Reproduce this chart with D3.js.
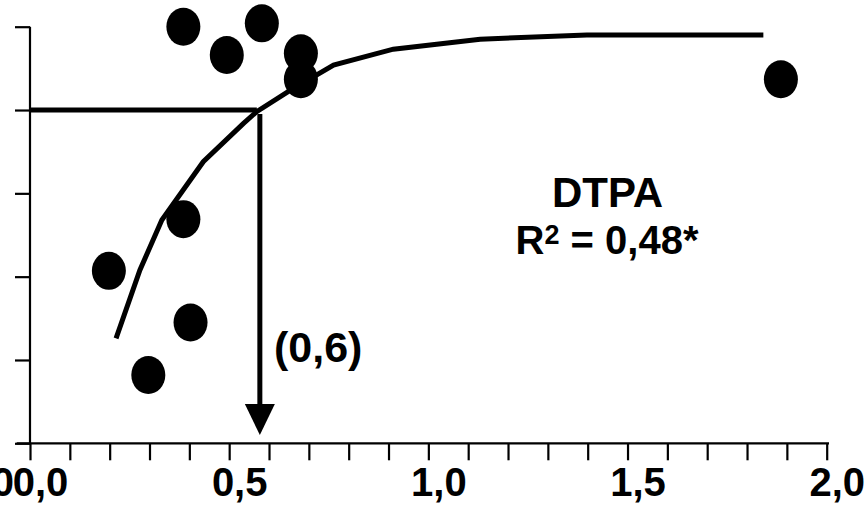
<!DOCTYPE html>
<html>
<head>
<meta charset="utf-8">
<script src="https://cdn.jsdelivr.net/npm/d3@7"></script>
<style>
  html, body { margin: 0; padding: 0; background: #fff; }
  svg { display: block; }
  text { font-family: "Liberation Sans", Arial, sans-serif; font-weight: bold; fill: #000; }
</style>
</head>
<body>
<svg id="chart" width="866" height="505"></svg>
<script>
// ---- data ----
const pointX = [0.385, 0.582, 0.494, 0.680, 0.680, 0.385, 0.198, 0.403, 0.297, 1.885];
const pointY = [100.0, 100.4, 96.6, 96.8, 93.7, 76.9, 70.7, 64.5, 58.2, 93.7];
const curveX = [0.216, 0.276, 0.331, 0.435, 0.536, 0.569, 0.648, 0.762, 0.912, 1.130, 1.398, 1.841];
const curveY = [62.6, 70.8, 76.8, 83.8, 88.4, 89.8, 92.2, 95.4, 97.3, 98.5, 99.0, 99.0];
const xTicks = [0, 0.1, 0.2, 0.3, 0.4, 0.5, 0.6, 0.7, 0.8, 0.9, 1.0, 1.1, 1.2, 1.3, 1.4, 1.5, 1.6, 1.7, 1.8, 1.9, 2.0];
const xTickLabels = ["0,0", "0,5", "1,0", "1,5", "2,0"];
const yTicks = [50, 60, 70, 80, 90, 100];
const criticalY = 90;
const criticalX = 0.577;
const criticalLabel = "(0,6)";
const extractant = "DTPA";
const r2Label = "= 0,48*";

// ---- scales ----
const svg = d3.select("#chart");
const x = d3.scaleLinear().domain([0, 2]).range([30, 826.7]);
const y = d3.scaleLinear().domain([50, 100]).range([443.3, 26.7]);

// ---- axes ----
const xAxis = d3.axisBottom(x).tickValues(xTicks).tickSizeInner(17).tickSizeOuter(0)
  .tickFormat(d => {
    const i = Math.round(d * 10);
    return i % 5 === 0 ? xTickLabels[i / 5] : "";
  });
const gx = svg.append("g").attr("transform", `translate(0,${y(50)})`).call(xAxis);
gx.select(".domain").remove();
gx.selectAll(".tick line").attr("stroke", "#000").attr("stroke-width", 2.2);
gx.selectAll(".tick text")
  .attr("font-size", 40).attr("y", 52.7).attr("dy", 0).attr("dx", 10)
  .attr("font-family", "Liberation Sans, Arial, sans-serif").attr("font-weight", "bold");
svg.append("line").attr("x1", 16.7).attr("x2", 829).attr("y1", y(50)).attr("y2", y(50))
  .attr("stroke", "#000").attr("stroke-width", 2.2);

const yAxis = d3.axisLeft(y).tickValues(yTicks).tickSizeInner(15).tickSizeOuter(0).tickFormat("");
const gy = svg.append("g").attr("transform", `translate(${x(0)},0)`).call(yAxis);
gy.select(".domain").remove();
gy.selectAll(".tick line").attr("stroke", "#000").attr("stroke-width", 2.2);
svg.append("line").attr("x1", x(0)).attr("x2", x(0)).attr("y1", y(100)).attr("y2", y(50))
  .attr("stroke", "#000").attr("stroke-width", 2.2);

// clipped label fragment on far left (cut off in the original too)
svg.append("text").attr("x", 14).attr("y", 496).attr("text-anchor", "end")
  .attr("font-size", 40).text("0");

// ---- critical level lines ----
svg.append("line").attr("x1", x(0)).attr("x2", x(criticalX) - 3)
  .attr("y1", y(criticalY)).attr("y2", y(criticalY))
  .attr("stroke", "#000").attr("stroke-width", 5);
const arrowTop = y(criticalY) + 4, arrowBase = 404, arrowTip = 435;
svg.append("line").attr("x1", x(criticalX)).attr("x2", x(criticalX))
  .attr("y1", arrowTop).attr("y2", arrowBase + 2)
  .attr("stroke", "#000").attr("stroke-width", 5);
svg.append("path")
  .attr("d", `M${x(criticalX) - 15},${arrowBase} L${x(criticalX) + 15},${arrowBase} L${x(criticalX)},${arrowTip} Z`)
  .attr("fill", "#000");

// ---- fitted curve ----
const curve = curveX.map((v, i) => [v, curveY[i]]);
svg.append("path").datum(curve)
  .attr("d", d3.line().x(d => x(d[0])).y(d => y(d[1])))
  .attr("fill", "none").attr("stroke", "#000").attr("stroke-width", 5)
  .attr("stroke-linejoin", "miter");

// ---- points ----
svg.selectAll("ellipse.pt").data(pointX.map((v, i) => [v, pointY[i]]))
  .join("ellipse").attr("class", "pt")
  .attr("cx", d => x(d[0])).attr("cy", d => y(d[1]))
  .attr("rx", 17).attr("ry", 19).attr("fill", "#000");

// ---- annotations ----
svg.append("text").attr("x", 274).attr("y", 362).attr("font-size", 43).text(criticalLabel);
svg.append("text").attr("x", 607.5).attr("y", 206.5).attr("text-anchor", "middle")
  .attr("font-size", 42).text(extractant);
const r2 = svg.append("text").attr("x", 607).attr("y", 254).attr("text-anchor", "middle").attr("font-size", 40);
r2.append("tspan").text("R");
r2.append("tspan").attr("font-size", 27).attr("dy", -10).text("2");
r2.append("tspan").attr("dy", 10).text(" " + r2Label);
</script>
</body>
</html>
